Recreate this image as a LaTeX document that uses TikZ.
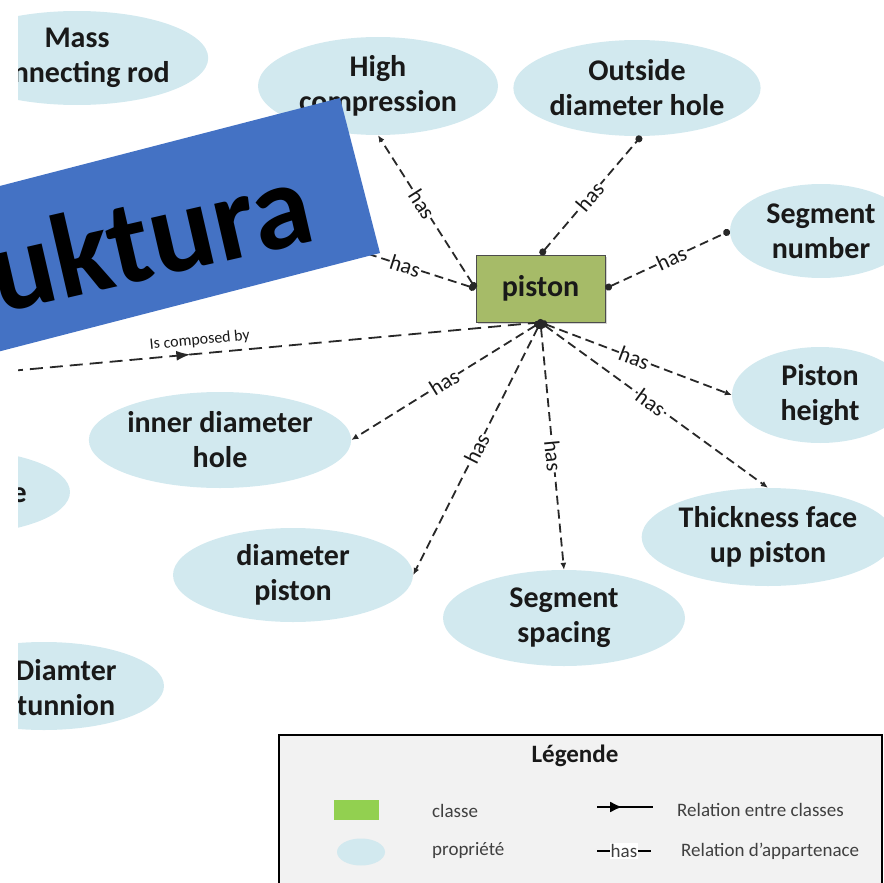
\documentclass[tikz,border=0pt]{standalone}
\usepackage{fontspec}
\setmainfont{Carlito}
\usetikzlibrary{arrows.meta,decorations.markings,shapes.geometric,shadows}
\definecolor{propblue}{RGB}{210,233,239}
\definecolor{pistongreen}{RGB}{166,187,104}
\definecolor{legendgreen}{RGB}{146,208,80}
\definecolor{bannerblue}{RGB}{68,114,196}
\definecolor{legendgray}{RGB}{242,242,242}
\definecolor{edgegray}{RGB}{40,40,40}
\definecolor{inktext}{RGB}{25,25,25}
\definecolor{legtext}{RGB}{64,64,64}
\begin{document}
\begin{tikzpicture}[x=1pt,y=-1pt,
  prop/.style={ellipse, fill=propblue, inner sep=0pt, align=center,
    font=\fontsize{30}{35}\selectfont\bfseries, text=inktext},
  proptext/.style={align=center, inner sep=0pt, font=\fontsize{30}{35}\selectfont\bfseries, text=inktext},
  hasline/.style={draw=edgegray, line width=1.8pt, dash pattern=on 9pt off 5pt},
  hasedge/.style={hasline, {Circle[length=7pt]}-{Latex[length=7pt,width=6pt]}},
  hasdots/.style={hasline, {Circle[length=7pt]}-{Circle[length=7pt]}},
  haslabel/.style={sloped, fill=white, inner sep=1pt, font=\fontsize{22}{22}\selectfont, text=inktext},
  legfont/.style={font=\fontsize{19}{19}\selectfont, text=legtext, inner sep=0pt},
]
\useasboundingbox (0,0) rectangle (884,883);
\clip (0,0) rectangle (884,883);

\begin{scope}
\clip (18,0) rectangle (884,883);
% property ellipses
\node[prop, minimum width=240pt, minimum height=94pt] (mass) at (77,58) {Mass\\connecting rod};
\node[prop, minimum width=240pt, minimum height=98pt] (hc) at (378,86) {High\\compression};
\node[prop, minimum width=238pt, minimum height=96pt] (od) at (637,88) {Outside\\diameter hole};
\node[prop, minimum width=182pt, minimum height=94pt] (sn) at (821,231) {Segment\\number};
\node[prop, minimum width=176pt, minimum height=96pt] (ph) at (820,395) {Piston\\height};
\node[prop, minimum width=240pt, minimum height=98pt] (th) at (768,537) {Thickness face\\up piston};
\node[prop, minimum width=242pt, minimum height=96pt] (ss) at (564,618) {Segment\\spacing};
\node[prop, minimum width=240pt, minimum height=94pt] (dp) at (293,575) {diameter\\piston};
\node[prop, minimum width=242pt, minimum height=96pt] (idh) at (220,440) {inner diameter\\hole};
\node[prop, minimum width=220pt, minimum height=84pt] (pe) at (-40,492) {};
\node[proptext, anchor=base east] (pet) at (27,502) {e};
\node[prop, minimum width=240pt, minimum height=88pt] (dt) at (44,686) {};
\node[proptext] (dtt) at (66,688) {Diamter\\tunnion};

% class node
\node[draw=gray!60!black, line width=0.8pt, fill=pistongreen, minimum width=129pt, minimum height=67pt,
  font=\fontsize{30}{35}\selectfont\bfseries, text=inktext,
  drop shadow={shadow xshift=2pt, shadow yshift=-2pt, opacity=0.35}] (piston) at (540.5,288.5) {piston};

% hidden relation (under the banner)
\coordinate (hid) at (300,232);
\draw[hasline, {Circle[length=7pt]}-] (piston.west) -- node[haslabel, pos=0.40]{has} (hid);

% has relations
\draw[hasedge] (piston.west) -- node[haslabel, pos=0.55]{has} (hc.south);
\draw[hasdots] (piston.north) -- node[haslabel, pos=0.49]{has} (od.-85);
\draw[hasdots] (piston.east) -- node[haslabel, pos=0.53]{has} (sn.west);
\draw[hasedge] (piston.south) -- node[haslabel, pos=0.49]{has} (ph.west);
\draw[hasedge] (piston.south) -- node[haslabel, pos=0.485]{has} (th.north);
\draw[hasedge] (piston.south) -- node[haslabel, pos=0.54]{has} (ss.north);
\draw[hasedge] (piston.south) -- node[haslabel, pos=0.50]{has} (dp.east);
\draw[hasedge] (piston.south) -- node[haslabel, pos=0.51]{has} (idh.east);

% composition relation
\coordinate (cs) at (10,371);
\draw[draw=edgegray, line width=1.8pt, dash pattern=on 13pt off 7pt,
  postaction={decorate},
  decoration={markings, mark=at position 0.34 with {\arrow{Latex[length=14pt,width=10pt]}}}]
  (cs) -- node[sloped, above=2pt, pos=0.36, font=\fontsize{16}{16}\selectfont, text=inktext]{Is composed by} (piston.south);
\fill[edgegray] (piston.south) circle (3.5pt);
\end{scope}

% banner
\fill[bannerblue] (340,98) -- (380,253) -- ++(-580,150) -- ++(-40,-155) -- cycle;
\node[rotate=13, anchor=base east, inner sep=0pt, font=\fontsize{120}{120}\selectfont\bfseries, text=black] (banner) at (318,240) {Struktura};

% legend
\node[draw=black, line width=2pt, fill=legendgray, minimum width=603pt, minimum height=170pt, anchor=north west] (legend) at (278,734) {};
\node[font=\fontsize{25}{25}\selectfont\bfseries, text=inktext] (lt) at (575,756) {Légende};
\node[fill=legendgreen, minimum width=45pt, minimum height=20pt, inner sep=0pt] (lg) at (356,810) {};
\node[legfont, anchor=west] (lc) at (432,811) {classe};
\coordinate (la1) at (597,807);
\coordinate (la2) at (653,807);
\draw[black, line width=2pt, postaction={decorate},
  decoration={markings, mark=at position 0.45 with {\arrow{Latex[length=12pt,width=11pt]}}}] (la1) -- (la2);
\node[legfont, anchor=west] (lr1) at (677,810) {Relation entre classes};
\node[ellipse, fill=propblue, minimum width=48pt, minimum height=27pt, inner sep=0pt] (lp) at (361,852) {};
\node[legfont, anchor=west] (lpr) at (432,850) {propriété};
\coordinate (lh1) at (597,851);
\coordinate (lh2) at (651,851);
\draw[black, line width=2pt] (lh1) -- node[fill=white, inner sep=1pt, font=\fontsize{19}{19}\selectfont, text=legtext]{has} (lh2);
\node[legfont, anchor=west] (lr2) at (681,851) {Relation d’appartenace};
\end{tikzpicture}
\end{document}
